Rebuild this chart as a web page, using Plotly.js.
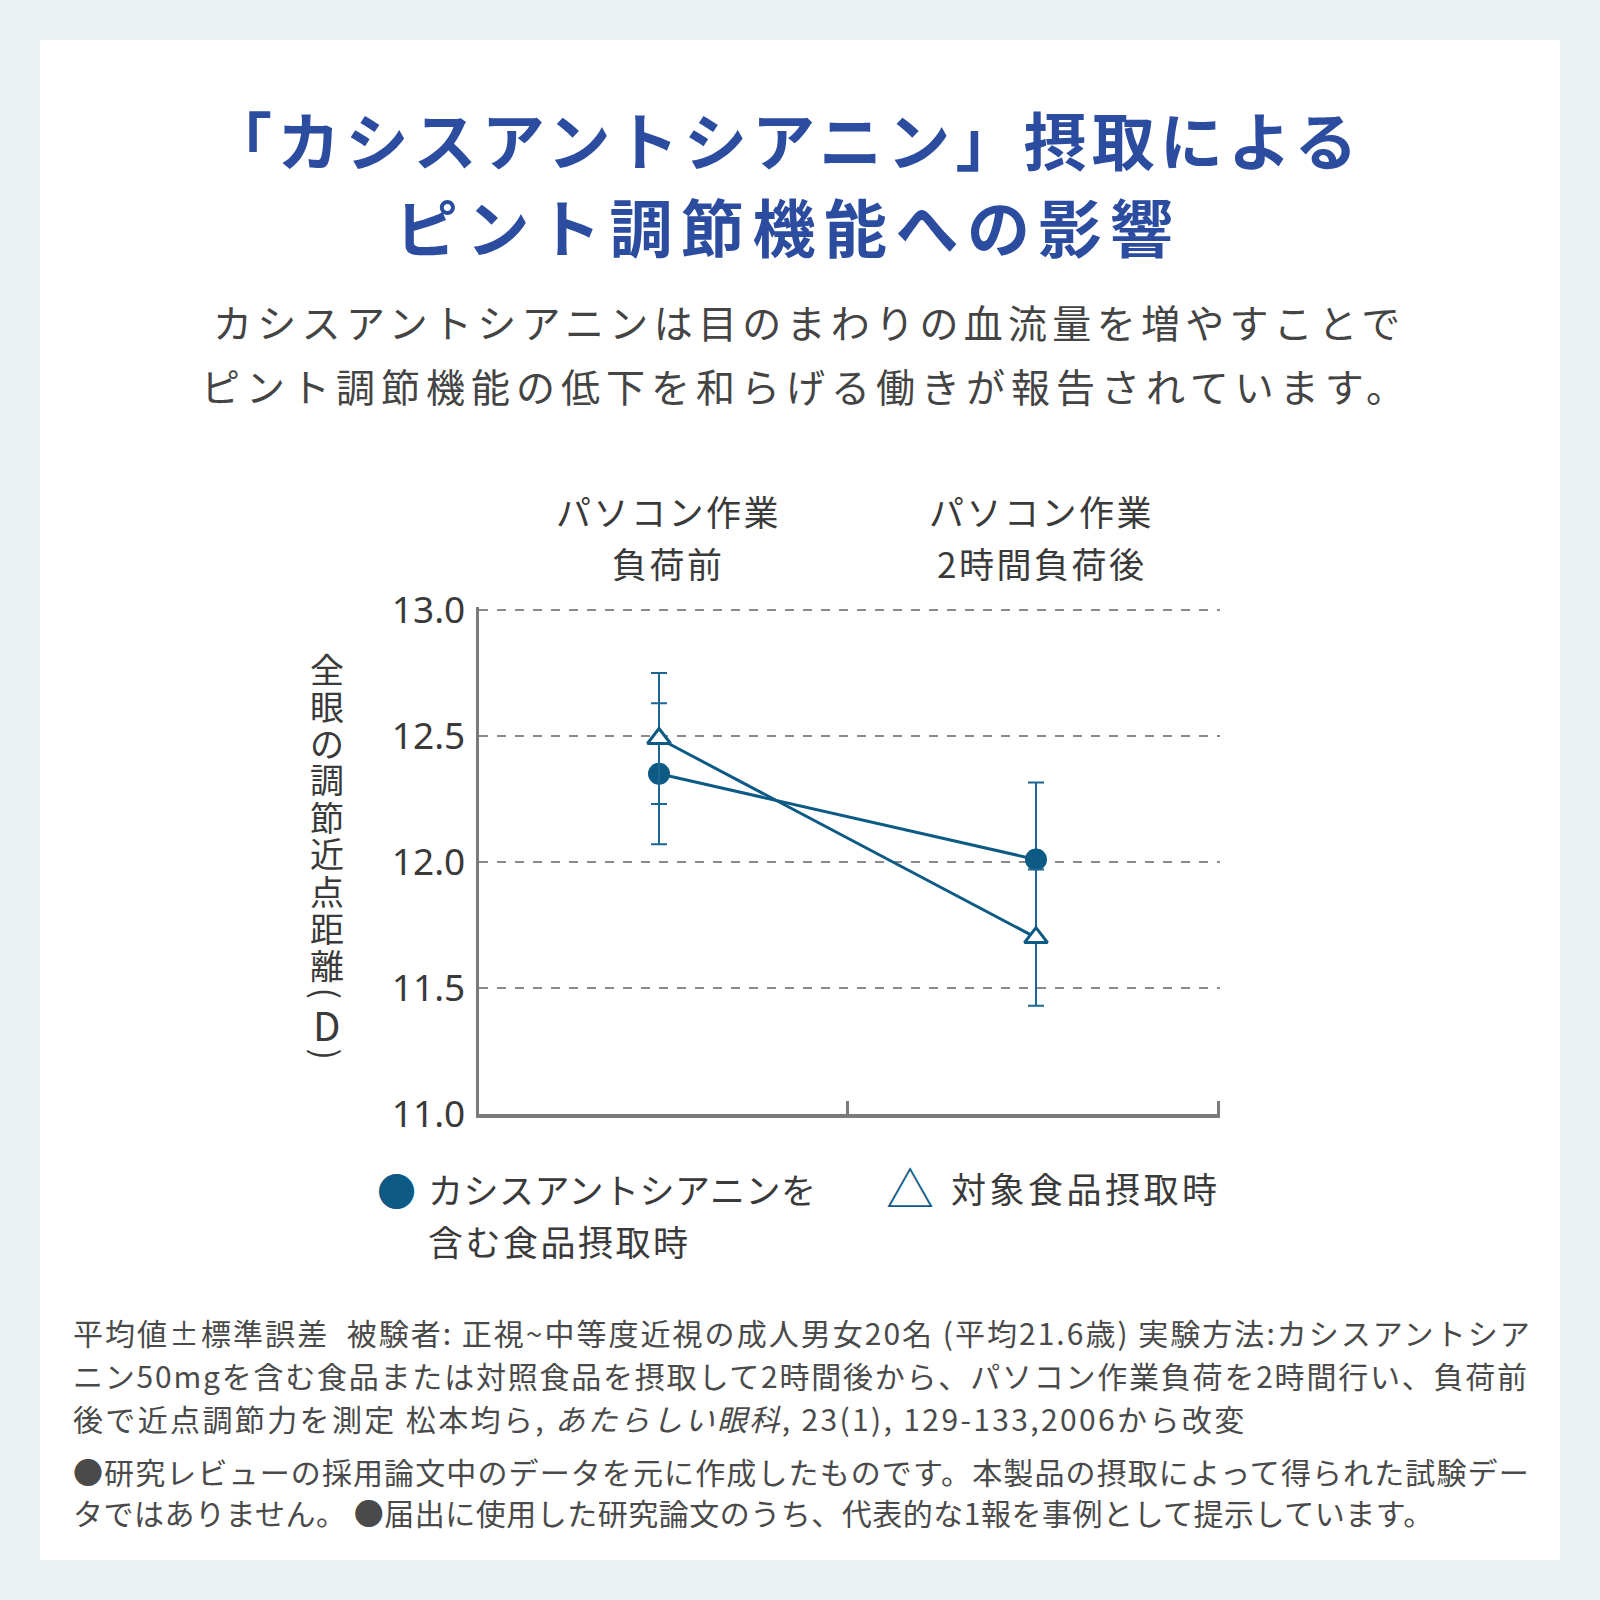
<!DOCTYPE html>
<html><head><meta charset="utf-8">
<script src="https://cdn.plot.ly/plotly-3.0.1.min.js"></script>
<style>html,body{margin:0;padding:0;background:#e9f2f1;}</style>
</head><body>
<div id="chart" style="width:1600px;height:1600px"></div>
<script>
// ---------- data ----------
const categoryLines = [['パソコン作業', '負荷前'], ['パソコン作業', '2時間負荷後']];
const categories = categoryLines.map(l => l.join(''));
const seriesNames = ['カシスアントシアニンを含む食品摂取時', '対象食品摂取時'];
const legendLines = [['カシスアントシアニンを', '含む食品摂取時'], ['対象食品摂取時']];
const cassisMean = [12.35, 12.01];
const cassisSE = [0.28, 0.305];
const controlMean = [12.49, 11.70];
const controlSE = [0.26, 0.27];
const yTickVals = [11.0, 11.5, 12.0, 12.5, 13.0];
const yTickText = ['11.0', '11.5', '12.0', '12.5', '13.0'];
const yAxisLabel = '全眼の調節近点距離(D)';
const titleLines = ['「カシスアントシアニン」摂取による', 'ピント調節機能への影響'];
const subtitleLines = ['カシスアントシアニンは目のまわりの血流量を増やすことで', 'ピント調節機能の低下を和らげる働きが報告されています。'];
const footnoteLines = [
  '平均値±標準誤差  被験者: 正視~中等度近視の成人男女20名 (平均21.6歳) 実験方法:カシスアントシア',
  'ニン50mgを含む食品または対照食品を摂取して2時間後から、パソコン作業負荷を2時間行い、負荷前',
  '後で近点調節力を測定 松本均ら, <i>あたらしい眼科</i>, 23(1), 129-133,2006から改変',
  '●研究レビューの採用論文中のデータを元に作成したものです。本製品の摂取によって得られた試験デー',
  'タではありません。 ●届出に使用した研究論文のうち、代表的な1報を事例として提示しています。'
];

// ---------- styles / layout helpers ----------
const FONT = '"Noto Sans CJK JP", "Noto Sans", sans-serif';
const NUMFONT = '"Noto Sans", sans-serif';
const BLUE = '#0d5a85';
const BLUE_E = '#1b6791';
const GRAY_AX = '#7b7b7b';
const W = 1600, H = 1600;
const P = v => v / W;
const Q = v => 1 - v / H;
const footnoteWidths = [1458, 1455, 1171, 1458, 1363];
const footnoteY = [1332, 1375, 1418, 1471, 1512];

const canvas = document.createElement('canvas');
const ctx = canvas.getContext('2d');
function textWidth(t, size, family) {
  ctx.font = size + 'px ' + family;
  return ctx.measureText(t.replace(/<[^>]+>/g, '')).width;
}

const ann = [];
function addText(text, x, y, size, color, opts) {
  ann.push(Object.assign({
    text: text, x: P(x), y: Q(y), xref: 'paper', yref: 'paper', showarrow: false,
    xanchor: 'center', yanchor: 'middle',
    font: {family: FONT, size: size, color: color}
  }, opts || {}));
}
function spaced(t, px) { return '<span style="letter-spacing:' + px + 'px">' + t + '</span>'; }

// title
const TITLE_FONT = {family: FONT, size: 63, color: '#2b4c9f', weight: 700};
addText(spaced(titleLines[0], 5.2), 786, 137, 63, '', {font: TITLE_FONT});
addText(spaced(titleLines[1], 8.5), 788, 224, 63, '', {font: TITLE_FONT});
// subtitle
addText(spaced(subtitleLines[0], 5.3), 809, 321, 39, '#444444');
addText(spaced(subtitleLines[1], 6.0), 806, 385, 39, '#444444');

// category labels, placed with the x axis scale
categoryLines.forEach((lines, i) => {
  lines.forEach((l, j) => {
    ann.push({text: spaced(l, 2.5), x: i, xref: 'x', y: Q(511 + j * 52), yref: 'paper', showarrow: false,
      xanchor: 'center', yanchor: 'middle', xshift: i === 0 ? 9 : 5,
      font: {family: FONT, size: 35, color: '#3a3a3a'}});
  });
});

// vertical y-axis label: upright characters stacked, parentheses turned
Array.from(yAxisLabel).forEach((ch, i) => {
  const y = i < 9 ? 668 + 37 * i : 963 + 30.5 * (i - 8);
  const rot = (ch === '(' || ch === ')') ? 90 : 0;
  ann.push({text: ch, x: P(327), y: Q(y), xref: 'paper', yref: 'paper', showarrow: false,
    xanchor: 'center', yanchor: 'middle', textangle: rot,
    font: {family: FONT, size: ch === 'D' ? 40 : 34, color: '#3a3a3a'}});
});

// legend (glyph symbols + names)
addText('●', 396, 1189, 39, BLUE);
addText(spaced(legendLines[0][0], 0.5), 426, 1188, 35, '#3a3a3a', {xanchor: 'left'});
addText(spaced(legendLines[0][1], 2.5), 426, 1240, 35, '#3a3a3a', {xanchor: 'left'});
addText('△', 910, 1186, 48, BLUE);
addText(spaced(legendLines[1][0], 3.5), 949, 1187, 35, '#3a3a3a', {xanchor: 'left'});

// footnotes, justified to the widths of the original
const FN_SIZE = 30;
footnoteLines.forEach((l, i) => {
  const plain = l.replace(/<[^>]+>/g, '');
  const w = textWidth(plain, FN_SIZE, '"Noto Sans CJK JP"');
  const n = Array.from(plain).length;
  const ls = Math.max(-2, (footnoteWidths[i] - w) / (n - 1));
  addText(spaced(l, ls.toFixed(2)), 71, footnoteY[i], FN_SIZE, '#4a4a4a', {xanchor: 'left'});
});

// ---------- traces ----------
const xIdx = categories.map((c, i) => i);
const traces = [
  {
    type: 'scatter', mode: 'lines+markers', name: seriesNames[0],
    x: xIdx, y: cassisMean, text: categories,
    line: {color: BLUE, width: 3},
    marker: {symbol: 'circle', size: 22, color: BLUE},
    error_y: {type: 'data', array: cassisSE, visible: true, color: BLUE_E, thickness: 2, width: 8},
    showlegend: false, hoverinfo: 'skip'
  },
  {
    type: 'scatter', mode: 'lines+markers', name: seriesNames[1],
    x: xIdx, y: controlMean, text: categories,
    line: {color: BLUE, width: 3},
    marker: {symbol: 'triangle-up', size: 20, color: '#ffffff', line: {color: BLUE, width: 3}},
    error_y: {type: 'data', array: controlSE, visible: true, color: BLUE_E, thickness: 2, width: 8},
    showlegend: false, hoverinfo: 'skip'
  }
];

// axis geometry: 11.0 at y=1114px, 13.0 at y=610px; x index 0 at 659px, 1 at 1036px
const Y0 = 1114, Y13 = 610, yTop = 13.012;
const pxPerUnitY = (Y0 - Y13) / 2;
const X0 = 659, X1 = 1036, xL = -0.477, xR = 1.488;
const pxPerUnitX = X1 - X0;

const layout = {
  width: W, height: H, autosize: false,
  margin: {l: 0, r: 0, t: 0, b: 0, pad: 0},
  paper_bgcolor: '#e9f2f1', plot_bgcolor: 'rgba(0,0,0,0)',
  showlegend: false,
  xaxis: {
    type: 'linear', domain: [P(X0 + xL * pxPerUnitX), P(X0 + xR * pxPerUnitX)], range: [xL, xR],
    showline: true, linecolor: GRAY_AX, linewidth: 4,
    tickmode: 'array', tickvals: [0.5, 1.483], ticktext: ['', ''],
    ticks: 'inside', ticklen: 13, tickwidth: 3, tickcolor: GRAY_AX,
    showticklabels: false, showgrid: false, zeroline: false, fixedrange: true
  },
  yaxis: {
    domain: [Q(Y0), Q(Y13 - (yTop - 13) * pxPerUnitY)], range: [11, yTop],
    tickmode: 'array', tickvals: yTickVals, ticktext: yTickText,
    showline: true, linecolor: GRAY_AX, linewidth: 3.5,
    ticks: '', ticklabelstandoff: 3,
    tickfont: {family: NUMFONT, size: 37, color: '#3a3a3a'},
    showgrid: true, gridcolor: '#8a8a8a', gridwidth: 1.6, griddash: 'dash',
    zeroline: false, fixedrange: true
  },
  shapes: [{
    type: 'rect', xref: 'paper', yref: 'paper', x0: P(40), x1: P(1560), y0: Q(1560), y1: Q(40),
    fillcolor: '#ffffff', line: {width: 0}, layer: 'below'
  }],
  annotations: ann
};

Plotly.newPlot('chart', traces, layout, {staticPlot: true, displayModeBar: false});
</script>
</body></html>
